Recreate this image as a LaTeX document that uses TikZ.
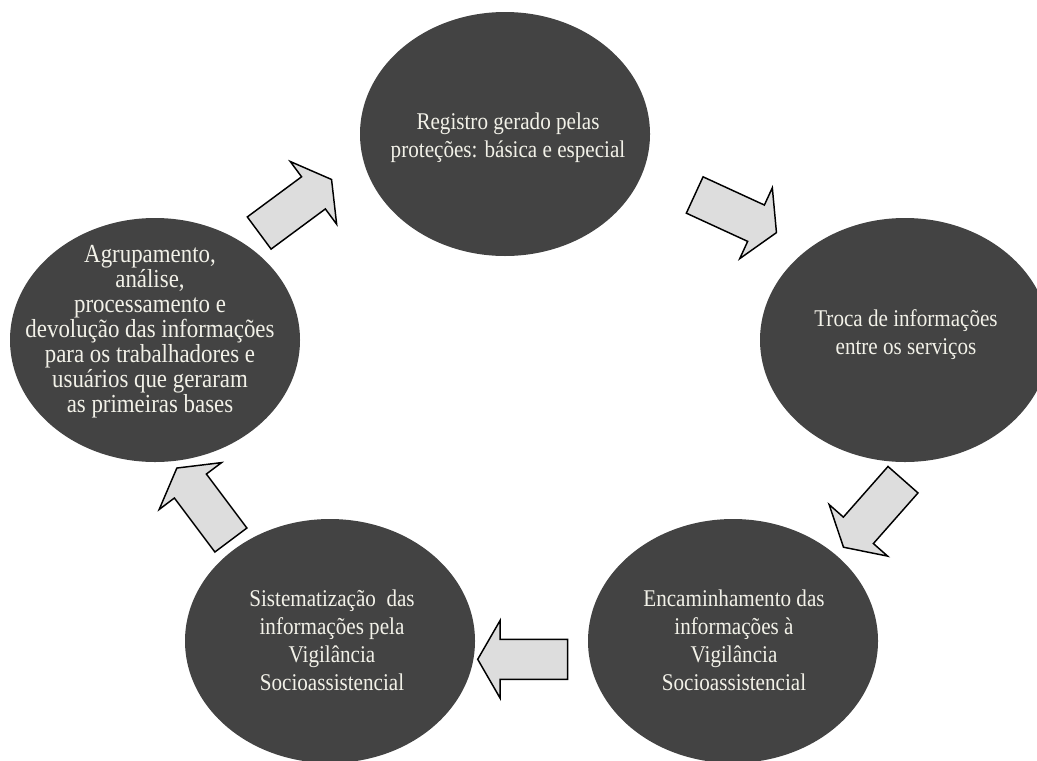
\documentclass[tikz,border=0pt]{standalone}
\usepackage{fontspec}
\setmainfont{Liberation Serif}[FakeStretch=0.88]
\usepackage{tikz}
\usetikzlibrary{shapes.geometric}

\definecolor{fundo}{RGB}{67,67,67}
\definecolor{texto}{RGB}{242,241,232}
\definecolor{cinza}{RGB}{221,221,221}

\begin{document}
\begin{tikzpicture}[x=0.75pt,y=-0.75pt,
                    phase/.style={ellipse,fill=fundo,inner sep=0pt,
                                  minimum width=217.5pt,minimum height=183pt},
                    rotulo/.style={text=texto,align=center,inner sep=0pt,
                                   font=\fontsize{18}{21}\selectfont},
                    seta/.style={draw=black,fill=cinza,line width=1.1pt,line join=miter}]

\clip (0,0) rectangle (1037,760);

% as cinco etapas do ciclo
\node [phase] (registro) at (505,134) {};
\node [phase] (troca) at (905,340) {};
\node [phase] (encaminhamento) at (733,641) {};
\node [phase] (sistematizacao) at (330,641) {};
\node [phase] (agrupamento) at (155,340) {};

% textos
\node [rotulo] (registro-txt) at (508,138) {Registro gerado pelas\\proteções: básica e especial};
\node [rotulo] (troca-txt) at (906,335) {Troca de informações\\entre os serviços};
\node [rotulo] (encaminhamento-txt) at (734,640) {Encaminhamento das\\informações à\\Vigilância\\Socioassistencial};
\node [rotulo] (sistematizacao-txt) at (332,640) {Sistematização~ das\\informações pela\\Vigilância\\Socioassistencial};
\node [rotulo,font=\fontsize{19.5}{18.75}\selectfont] (agrupamento-txt) at (150,332) {Agrupamento,\\análise,\\processamento e\\devolução das informações\\para os trabalhadores e\\usuários que geraram\\as primeiras bases};

% setas entre as etapas
\draw [seta, shift={(259.2,233)}, rotate=36.5] (0,-20) -- (67.5,-20) -- (67.5,-39) -- (90,0) -- (67.5,39) -- (67.5,20) -- (0,20) -- cycle;
\draw [seta, shift={(694.7,195)}, rotate=-24.7] (0,-20) -- (67.5,-20) -- (67.5,-39) -- (90,0) -- (67.5,39) -- (67.5,20) -- (0,20) -- cycle;
\draw [seta, shift={(903,479.7)}, rotate=-131.4] (0,-20) -- (67.5,-20) -- (67.5,-39) -- (90,0) -- (67.5,39) -- (67.5,20) -- (0,20) -- cycle;
\draw [seta, shift={(567.7,659.3)}, rotate=180] (0,-20) -- (67.5,-20) -- (67.5,-39) -- (90,0) -- (67.5,39) -- (67.5,20) -- (0,20) -- cycle;
\draw [seta, shift={(230.9,540)}, rotate=126.9] (0,-20) -- (67.5,-20) -- (67.5,-39) -- (90,0) -- (67.5,39) -- (67.5,20) -- (0,20) -- cycle;

\end{tikzpicture}
\end{document}
